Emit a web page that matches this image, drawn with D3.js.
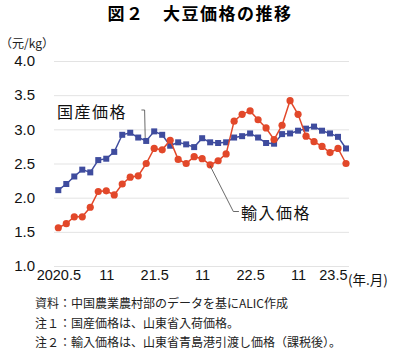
<!DOCTYPE html>
<html><head><meta charset="utf-8">
<script src="https://cdn.jsdelivr.net/npm/d3@7"></script>
<style>
body{margin:0;background:#fff;}
svg{display:block;font-family:"Liberation Sans","Noto Sans CJK JP",sans-serif;}
</style></head>
<body><svg id="c" width="400" height="356"></svg>
<script>
const title = "図２　大豆価格の推移";
const unitLabel = "（元/kg）";
const domesticLabel = "国産価格";
const importLabel = "輸入価格";
const months = d3.range(37);
const xTickIdx = [0, 6, 12, 18, 24, 30, 36];
const xTickLabels = ["2020.5", "11", "21.5", "11", "22.5", "11", "23.5"];
const xUnit = "(年.月)";
const yTicks = [1.0, 1.5, 2.0, 2.5, 3.0, 3.5, 4.0];
const domestic = [2.11, 2.20, 2.31, 2.41, 2.37, 2.55, 2.57, 2.67, 2.92, 2.95, 2.88, 2.83,
  2.97, 2.92, 2.76, 2.81, 2.78, 2.74, 2.87, 2.81, 2.80, 2.81, 2.88, 2.90,
  2.94, 2.88, 2.80, 2.79, 2.93, 2.94, 2.98, 3.01, 3.04, 2.98, 2.94, 2.89, 2.72];
const imported = [1.56, 1.62, 1.72, 1.72, 1.86, 2.09, 2.10, 2.04, 2.20, 2.30, 2.32, 2.50,
  2.72, 2.70, 2.84, 2.56, 2.50, 2.60, 2.57, 2.48, 2.54, 2.64, 3.12, 3.22,
  3.27, 3.14, 3.02, 2.85, 3.06, 3.42, 3.22, 2.90, 2.82, 2.75, 2.66, 2.72, 2.50];
const notes = [
  "資料：中国農業農村部のデータを基にALIC作成",
  "注１：国産価格は、山東省入荷価格。",
  "注２：輸入価格は、山東省青島港引渡し価格（課税後）。"
];

const blue = "#3f4c9e", red = "#e2482a";
const svg = d3.select("#c");
const x = d3.scaleLinear().domain([0, 36]).range([58.3, 346]);
const y = d3.scaleLinear().domain([1, 4]).range([266, 61]);

svg.append("text").attr("x", 200).attr("y", 20).attr("text-anchor", "middle")
  .attr("font-size", 17).attr("font-weight", "bold").attr("letter-spacing", 1.5)
  .attr("font-family", "'Noto Sans CJK JP',sans-serif").text(title);
svg.append("text").attr("x", 0).attr("y", 48).attr("font-size", 12)
  .attr("font-family", "'Noto Sans CJK JP',sans-serif").attr("fill", "#222").text(unitLabel);

// grid
const yAxis = d3.axisLeft(y).tickValues(yTicks).tickFormat(d3.format(".1f"))
  .tickSize(-(349 - 54)).tickPadding(19);
const gy = svg.append("g").attr("transform", "translate(54,0)").call(yAxis);
gy.select(".domain").remove();
gy.selectAll(".tick line").attr("stroke", "#e3e3e3").attr("stroke-width", 1);
gy.selectAll(".tick text").attr("font-size", 15).attr("fill", "#111")
  .attr("font-family", "'Liberation Sans',sans-serif");

// x axis labels
const xAxis = d3.axisBottom(x).tickValues(xTickIdx)
  .tickFormat((d, i) => xTickLabels[i]).tickSize(0).tickPadding(4);
const gx = svg.append("g").attr("transform", "translate(0,266)").call(xAxis);
gx.select(".domain").remove();
gx.selectAll(".tick text").attr("font-size", 14.5).attr("fill", "#111")
  .attr("font-family", "'Liberation Sans',sans-serif")
  .attr("text-anchor", d => d === 36 ? "end" : "middle")
  .attr("dx", d => d === 36 ? 1 : 0);
svg.append("text").attr("x", x(36) + 2).attr("y", 285).attr("font-size", 13.5)
  .attr("font-family", "'Noto Sans CJK JP',sans-serif").attr("fill", "#111").text(xUnit);

// lines
const line = d3.line().x((d, i) => x(i)).y(d => y(d));
svg.append("path").datum(domestic).attr("d", line).attr("fill", "none")
  .attr("stroke", blue).attr("stroke-width", 1.5);
svg.selectAll("rect.dm").data(domestic).join("rect").attr("class", "dm")
  .attr("x", (d, i) => x(i) - 3).attr("y", d => y(d) - 3)
  .attr("width", 6).attr("height", 6).attr("fill", blue);
svg.append("path").datum(imported).attr("d", line).attr("fill", "none")
  .attr("stroke", red).attr("stroke-width", 1.5);
svg.selectAll("circle.im").data(imported).join("circle").attr("class", "im")
  .attr("cx", (d, i) => x(i)).attr("cy", d => y(d)).attr("r", 3.6).attr("fill", red);

// labels with leaders
svg.append("path").attr("d", `M${x(10.4)},110 L${x(10.8)},110 L${x(11) - 1},${y(domestic[11]) - 3}`)
  .attr("fill", "none").attr("stroke", "#444").attr("stroke-width", 0.8);
svg.append("text").attr("x", 57).attr("y", 117.5).attr("font-size", 16).attr("letter-spacing", 1.5)
  .attr("font-family", "'Noto Sans CJK JP',sans-serif").attr("fill", "#111").text(domesticLabel);
svg.append("path").attr("d", `M${x(19)},${y(imported[19]) + 1} L${x(21.9)},211.5 L${x(22.6)},211.5`)
  .attr("fill", "none").attr("stroke", "#444").attr("stroke-width", 0.8);
svg.append("text").attr("x", 241).attr("y", 219).attr("font-size", 16).attr("letter-spacing", 1.5)
  .attr("font-family", "'Noto Sans CJK JP',sans-serif").attr("fill", "#111").text(importLabel);

// notes
svg.selectAll("text.note").data(notes).join("text").attr("class", "note")
  .attr("x", 35).attr("y", (d, i) => 308 + i * 19.5).attr("font-size", 12)
  .attr("font-family", "'Noto Sans CJK JP',sans-serif").attr("fill", "#222").text(d => d);
</script></body></html>
